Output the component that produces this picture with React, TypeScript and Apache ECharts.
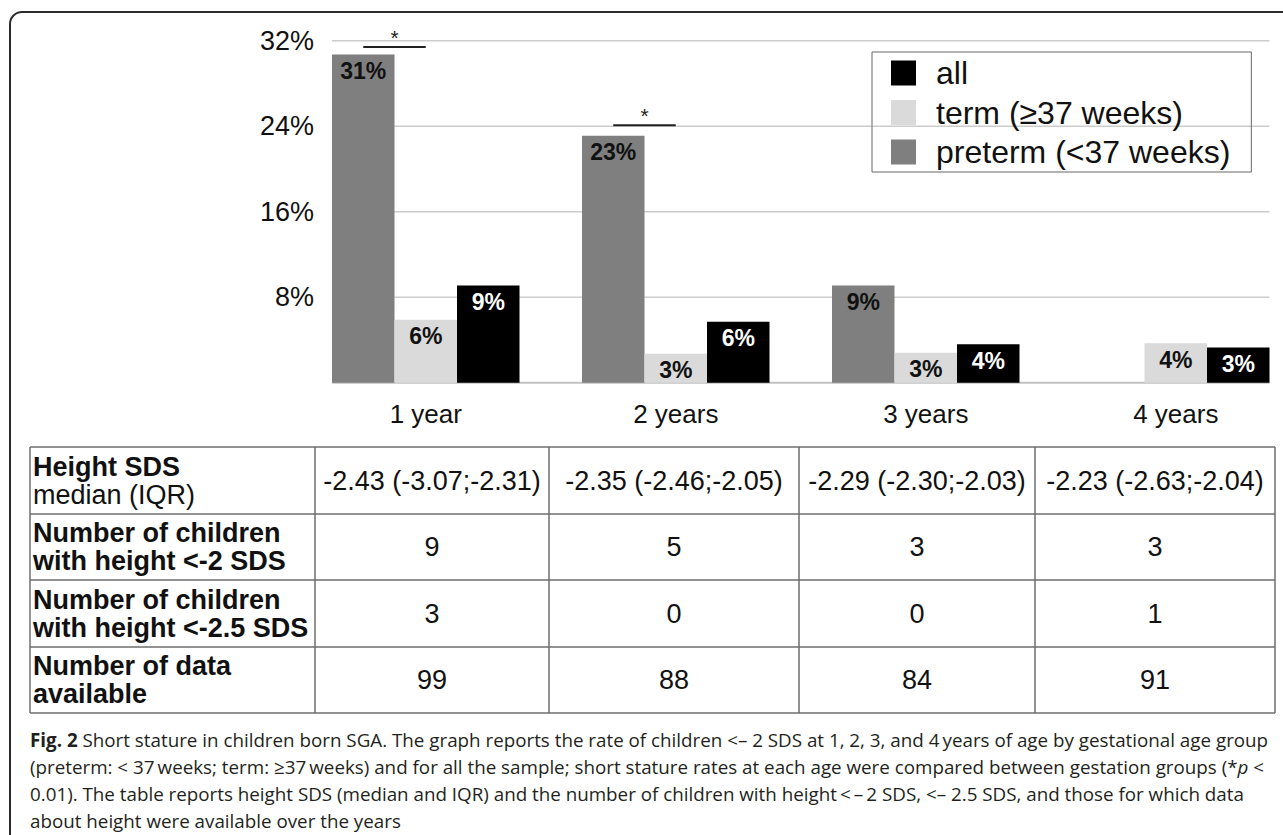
import React, { useEffect, useRef } from 'react';
import * as echarts from 'echarts';

// ---------- data ----------
const categories = ['1 year', '2 years', '3 years', '4 years'];
const pretermName = 'preterm (<37 weeks)';
const termName = 'term (\u226537 weeks)';
const allName = 'all';
const pretermRates = [30.7, 23.1, 9.1, 0];
const termRates = [5.9, 2.7, 2.8, 3.7];
const allRates = [9.1, 5.7, 3.6, 3.3];
const yTicks = [0, 8, 16, 24, 32];
// [category index, bracket level in %]
const significance = [
  [0, 31.4],
  [1, 24.1],
];

const tableRowHeads = [
  ['Height SDS', 'median (IQR)'],
  ['Number of children', 'with height <-2 SDS'],
  ['Number of children', 'with height <-2.5 SDS'],
  ['Number of data', 'available'],
];
const medianIQR = ['-2.43 (-3.07;-2.31)', '-2.35 (-2.46;-2.05)', '-2.29 (-2.30;-2.03)', '-2.23 (-2.63;-2.04)'];
const childrenBelow2 = ['9', '5', '3', '3'];
const childrenBelow25 = ['3', '0', '0', '1'];
const dataAvailable = ['99', '88', '84', '91'];

const captionLines = [
  '{b|Fig. 2} Short stature in children born SGA. The graph reports the rate of children <\u2013 2 SDS at 1, 2, 3, and 4\u2009years of age by gestational age group',
  '(preterm: < 37\u2009weeks; term: \u226537\u2009weeks) and for all the sample; short stature rates at each age were compared between gestation groups (*{i|p} <',
  '0.01). The table reports height SDS (median and IQR) and the number of children with height\u2009<\u2009\u2013\u20092 SDS, <\u2013 2.5 SDS, and those for which data',
  'about height were available over the years',
];

// ---------- layout / style ----------
const FONT = "'Liberation Sans', Arial, Helvetica, sans-serif";
const CAP_FONT = "'Open Sans', 'Noto Sans', sans-serif";
const CAP_SIZE = 18.8;
const GROUP_FRACTION = 0.75; // 1 - barCategoryGap
const colX = [30, 315, 549, 799, 1035, 1275];
const rowY = [447, 514, 580, 647, 713];

export default function App() {
  const ref = useRef<HTMLDivElement>(null);

  useEffect(() => {
    if (!ref.current) return;
    const chart = echarts.init(ref.current, null, { renderer: 'svg' });

    const graphics: any[] = [];
    // outer frame
    graphics.push({
      type: 'rect',
      shape: { x: 10, y: 12, width: 1330, height: 900, r: 12 },
      style: { fill: 'none', stroke: '#2b2b2b', lineWidth: 2 },
      silent: true,
    });
    // table lines
    rowY.forEach((y) => {
      graphics.push({
        type: 'line',
        shape: { x1: colX[0], y1: y, x2: colX[colX.length - 1], y2: y },
        style: { stroke: '#6e6e6e', lineWidth: 1.5 },
        silent: true,
      });
    });
    colX.forEach((x) => {
      graphics.push({
        type: 'line',
        shape: { x1: x, y1: rowY[0], x2: x, y2: rowY[rowY.length - 1] },
        style: { stroke: '#6e6e6e', lineWidth: 1.5 },
        silent: true,
      });
    });
    // row heads
    tableRowHeads.forEach((lines, r) => {
      const c = (rowY[r] + rowY[r + 1]) / 2;
      lines.forEach((t, k) => {
        graphics.push({
          type: 'text',
          x: colX[0] + 3,
          y: c + (k === 0 ? -14 : 14),
          style: {
            text: t,
            fontSize: 27,
            fontFamily: FONT,
            fontWeight: r === 0 && k === 1 ? 'normal' : 'bold',
            fill: '#111',
            align: 'left',
            verticalAlign: 'middle',
          },
          silent: true,
        });
      });
    });
    // table values
    [medianIQR, childrenBelow2, childrenBelow25, dataAvailable].forEach((row, r) => {
      const c = (rowY[r] + rowY[r + 1]) / 2;
      row.forEach((t, j) => {
        graphics.push({
          type: 'text',
          x: (colX[j + 1] + colX[j + 2]) / 2,
          y: c,
          style: {
            text: t,
            fontSize: 27,
            fontFamily: FONT,
            fill: '#111',
            align: 'center',
            verticalAlign: 'middle',
          },
          silent: true,
        });
      });
    });
    // caption
    captionLines.forEach((t, i) => {
      graphics.push({
        type: 'text',
        x: 30,
        y: 740 + i * 27,
        style: {
          text: t,
          fontSize: CAP_SIZE,
          fontFamily: CAP_FONT,
          fill: '#231f20',
          align: 'left',
          verticalAlign: 'middle',
          rich: {
            b: { fontSize: CAP_SIZE, fontFamily: CAP_FONT, fontWeight: 'bold', fill: '#231f20' },
            i: { fontSize: CAP_SIZE, fontFamily: CAP_FONT, fontStyle: 'italic', fill: '#231f20' },
          },
        },
        silent: true,
      });
    });

    const barLabel = (color: string) => ({
      show: true,
      position: 'insideTop',
      distance: 5,
      fontSize: 23,
      fontWeight: 'bold',
      fontFamily: FONT,
      color,
      formatter: (p: any) => (p.value ? Math.round(p.value) + '%' : ''),
    });

    chart.setOption({
      animation: false,
      backgroundColor: '#ffffff',
      grid: {
        left: 300.75,
        top: 40.7,
        width: 1000,
        height: 342,
        outerBoundsMode: 'none',
        containLabel: false,
      },
      legend: {
        orient: 'vertical',
        left: 872,
        top: 52,
        data: [allName, termName, pretermName],
        icon: 'rect',
        itemWidth: 25,
        itemHeight: 25,
        itemGap: 7.5,
        padding: [5, 21, 4, 19],
        borderColor: '#666',
        borderWidth: 1,
        selectedMode: false,
        textStyle: {
          fontSize: 32,
          fontFamily: FONT,
          color: '#111',
          padding: [0, 0, 0, 15],
        },
      },
      xAxis: {
        type: 'category',
        data: categories,
        axisLine: { show: false },
        axisTick: { show: false },
        splitLine: { show: false },
        axisLabel: {
          interval: 0,
          margin: 18,
          fontSize: 26,
          fontFamily: FONT,
          color: '#111',
        },
      },
      yAxis: {
        type: 'value',
        min: 0,
        max: 32,
        interval: 8,
        axisLine: { show: false },
        axisTick: { show: false },
        splitLine: { show: false },
        axisLabel: {
          margin: -13.25,
          fontSize: 27,
          fontFamily: FONT,
          color: '#111',
          formatter: (v: number) => (v === 0 ? '' : v + '%'),
        },
      },
      series: [
        {
          type: 'custom',
          name: 'gridlines',
          z: 1,
          silent: true,
          data: yTicks.map((v) => [0, v]),
          renderItem: (_params: any, api: any) => {
            const v = api.value(1);
            const band = api.size([1, 0])[0];
            const p0 = api.coord([0, v]);
            const p3 = api.coord([categories.length - 1, v]);
            return {
              type: 'line',
              shape: {
                x1: p0[0] - (band * GROUP_FRACTION) / 2,
                y1: p0[1],
                x2: p3[0] + (band * GROUP_FRACTION) / 2,
                y2: p3[1],
              },
              style: { stroke: v === 0 ? '#c2c2c2' : '#cdcdcd', lineWidth: v === 0 ? 2 : 1.5 },
            };
          },
        },
        {
          type: 'bar',
          name: pretermName,
          data: pretermRates,
          barGap: '0%',
          barCategoryGap: '25%',
          itemStyle: { color: '#7f7f7f' },
          label: barLabel('#111'),
        },
        {
          type: 'bar',
          name: termName,
          data: termRates,
          barGap: '0%',
          barCategoryGap: '25%',
          itemStyle: { color: '#dadada' },
          label: barLabel('#111'),
        },
        {
          type: 'bar',
          name: allName,
          data: allRates,
          barGap: '0%',
          barCategoryGap: '25%',
          itemStyle: { color: '#000000' },
          label: barLabel('#ffffff'),
        },
        {
          type: 'custom',
          name: 'significance',
          z: 5,
          silent: true,
          data: significance,
          renderItem: (_params: any, api: any) => {
            const c = api.value(0);
            const v = api.value(1);
            const band = api.size([1, 0])[0];
            const p = api.coord([c, v]);
            const barW = (band * GROUP_FRACTION) / 3;
            const x1 = p[0] - barW;
            const x2 = p[0];
            return {
              type: 'group',
              children: [
                {
                  type: 'line',
                  shape: { x1, y1: p[1], x2, y2: p[1] },
                  style: { stroke: '#222', lineWidth: 2 },
                },
                {
                  type: 'text',
                  x: (x1 + x2) / 2,
                  y: p[1] - 10,
                  style: {
                    text: '*',
                    fontSize: 21,
                    fontFamily: FONT,
                    fill: '#222',
                    align: 'center',
                    verticalAlign: 'middle',
                  },
                },
              ],
            };
          },
        },
      ],
      graphic: { elements: graphics },
    });

    return () => chart.dispose();
  }, []);

  return (
    <div
      ref={ref}
      style={{ position: 'absolute', left: 0, top: 0, width: 1283, height: 835, background: '#fff' }}
    />
  );
}
